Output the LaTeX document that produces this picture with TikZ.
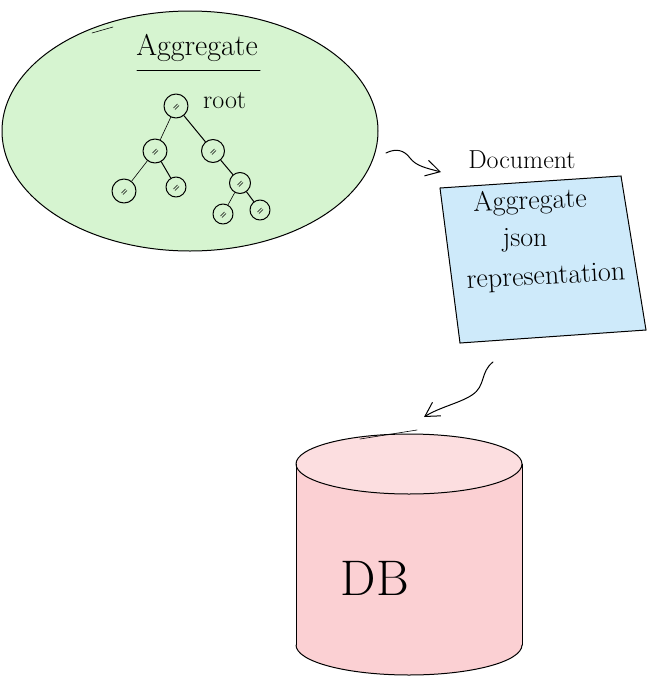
\documentclass[tikz,border=0pt]{standalone}
\usetikzlibrary{shapes.geometric,arrows.meta}
\definecolor{aggfill}{RGB}{214,244,208}
\definecolor{docfill}{RGB}{206,234,250}
\definecolor{dbfill}{RGB}{251,208,211}
\definecolor{dbtop}{RGB}{252,222,224}
\begin{document}
\begin{tikzpicture}[x=1pt,y=-1pt,
  ink/.style={draw=black,line width=1pt,line cap=round,line join=round},
  tn/.style={circle,ink,inner sep=0pt,
    path picture={\draw[line width=0.45pt]
      ([shift={(-2.5pt,-2pt)}]path picture bounding box.center) -- ++(4pt,4pt)
      ([shift={(-1pt,-3.5pt)}]path picture bounding box.center) -- ++(4pt,4pt);}},
  arr/.style={ink,-{Straight Barb[length=14pt,width=16pt,line width=1pt]}},
  lbl/.style={inner sep=0pt,font=\fontsize{#1}{#1}\selectfont},
  lbl/.default=24]
\useasboundingbox (0,0) rectangle (652,694);

% Aggregate ellipse
\node[ellipse,ink,fill=aggfill,minimum width=376pt,minimum height=240pt] (agg) at (190,131) {};
\draw[ink,line width=0.6pt] (92,33) -- (113,27);
\node[lbl=30] (aggtitle) at (197,48) {Aggregate};
\coordinate (ulA) at (137,70);
\coordinate (ulB) at (260,70);
\draw[ink] (ulA) -- (ulB);

% tree
\node[tn,minimum size=24pt] (r) at (176,106) {};
\node[lbl=26,anchor=west] (rootlbl) at (203,101) {root};
\node[tn,minimum size=24pt] (a) at (155,151) {};
\node[tn,minimum size=23pt] (b) at (213,151) {};
\node[tn,minimum size=24pt] (c) at (124,191) {};
\node[tn,minimum size=20pt] (d) at (176,187) {};
\node[tn,minimum size=21pt] (e) at (240,183) {};
\node[tn,minimum size=20pt] (f) at (223,214) {};
\node[tn,minimum size=20pt] (g) at (260,210) {};
\draw[ink,line width=0.6pt] (r) -- (a);
\draw[ink] (r) -- (b);
\draw[ink,line width=0.6pt] (a) -- (c);
\draw[ink] (a) -- (d);
\draw[ink] (b) -- (e);
\draw[ink,line width=0.6pt] (e) -- (f);
\draw[ink] (e) -- (g);

% Document box
\coordinate (dNW) at (440,188);
\coordinate (dNE) at (621,176);
\coordinate (dSE) at (646,330);
\coordinate (dSW) at (460,343);
\fill[docfill] (dNW) -- (dNE) -- (dSE) -- (dSW) -- cycle;
\draw[ink] (dNW) -- (dNE);
\draw[ink] (dNE) -- (dSE);
\draw[ink] (dSE) -- (dSW);
\draw[ink] (dSW) -- (dNW);
\node[lbl=26] (doclbl) at (522,160) {Document};
\node[lbl=28,rotate=2] (t1) at (530,202) {Aggregate};
\node[lbl=28] (t2) at (525,240) {json};
\node[lbl=28,rotate=3] (t3) at (546,278) {representation};

% arrow aggregate -> document
\coordinate (a1s) at (386,153);
\coordinate (docIn) at (441,172);
\draw[arr] (a1s) .. controls (396,148) and (404,150) .. (410,158)
  .. controls (416,166) and (426,168) .. (docIn);

% DB cylinder
\coordinate (cTL) at (296,464);
\coordinate (cTR) at (522,464);
\coordinate (cBL) at (296,645);
\coordinate (cBR) at (522,645);
\fill[dbfill] (cTL) -- (cBL) arc[start angle=180,end angle=360,x radius=113pt,y radius=30pt]
  -- (cTR) arc[start angle=0,end angle=180,x radius=113pt,y radius=30pt] -- cycle;
\fill[dbtop] (409,464) ellipse[x radius=113pt,y radius=30pt];
\draw[ink] (409,464) ellipse[x radius=113pt,y radius=30pt];
\draw[ink] (cTL) -- (cBL);
\draw[ink] (cTR) -- (cBR);
\draw[ink] (cBL) arc[start angle=180,end angle=360,x radius=113pt,y radius=30pt];
\draw[ink,line width=0.6pt] (360,439) -- (417,430);
\node[lbl=50] (db) at (375,578) {DB};

% arrow document -> DB
\coordinate (a2s) at (493,362);
\coordinate (dbIn) at (424,417);
\draw[arr] (a2s) .. controls (480,372) and (486,386) .. (472,395)
  .. controls (460,403) and (440,407) .. (dbIn);
\end{tikzpicture}
\end{document}
